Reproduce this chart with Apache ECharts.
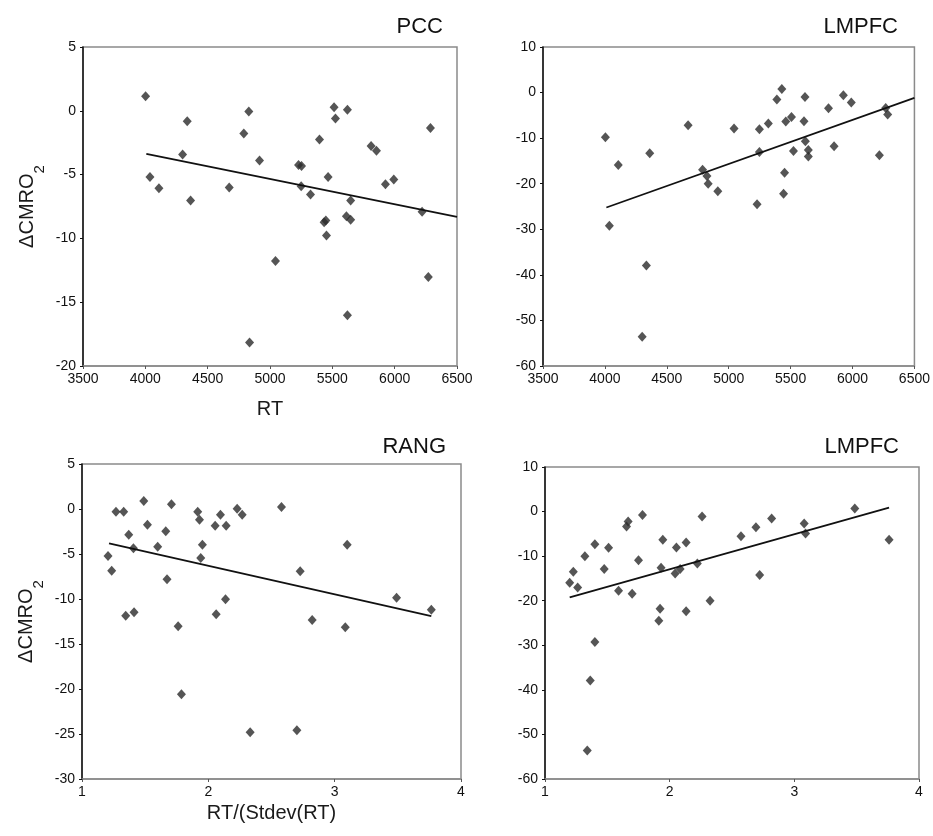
<!DOCTYPE html>
<html>
<head>
<meta charset="utf-8">
<title>CMRO2 scatter</title>
<script src="https://cdn.jsdelivr.net/npm/echarts@6/dist/echarts.min.js"></script>
<style>
	html, body { margin: 0; padding: 0; background: #fff; }
	#chart { width: 933px; height: 836px; }
</style>
</head>
<body>
<div id="chart"></div>
<script>
/*******************************/
/*数据部分*/
/*******************************/
// 上排：RT
var rtTicks = [3500, 4000, 4500, 5000, 5500, 6000, 6500];
var pccPoints = [
	[4002, 1.14], [4037, -5.18], [4109, -6.06], [4299, -3.43], [4336, -0.82], [4363, -7.03],
	[4673, -6.01], [4790, -1.78], [4830, -0.06], [4916, -3.90], [4836, -18.15], [5044, -11.78],
	[5229, -4.24], [5253, -4.32], [5250, -5.91], [5325, -6.56], [5397, -2.25], [5466, -5.18],
	[5514, 0.28], [5525, -0.61], [5434, -8.73], [5448, -8.60], [5453, -9.77], [5621, 0.09],
	[5613, -8.26], [5647, -8.54], [5647, -7.03], [5621, -16.03], [5811, -2.75], [5854, -3.14],
	[5926, -5.75], [5993, -5.39], [6220, -7.92], [6270, -13.03], [6287, -1.34]
];
var pccFit = [[4008, -3.38], [6500, -8.31]];
var lmpfcRtPoints = [
	[4004, -9.80], [4036, -29.24], [4108, -15.87], [4362, -13.31], [4335, -37.93], [4301, -53.57],
	[4672, -7.17], [4789, -16.96], [4824, -18.28], [4834, -20.03], [4912, -21.64], [5043, -7.90],
	[5229, -24.49], [5248, -8.05], [5248, -13.02], [5320, -6.81], [5389, -1.54], [5429, 0.79],
	[5461, -6.37], [5507, -5.34], [5451, -17.62], [5443, -22.22], [5523, -12.80], [5616, -0.96],
	[5608, -6.29], [5619, -10.68], [5643, -12.58], [5643, -14.04], [5806, -3.44], [5851, -11.77],
	[5926, -0.59], [5990, -2.20], [6217, -13.75], [6268, -3.37], [6284, -4.83]
];
var lmpfcRtFit = [[4012, -25.22], [6500, -1.18]];
// 下排：RT/(Stdev(RT))
var ratioTicks = [1, 2, 3, 4];
var rangPoints = [
	[1.206, -5.22], [1.235, -6.85], [1.269, -0.30], [1.330, -0.30], [1.370, -2.85], [1.407, -4.37],
	[1.346, -11.85], [1.412, -11.48], [1.489, 0.89], [1.518, -1.74], [1.599, -4.19], [1.663, -2.48],
	[1.673, -7.81], [1.708, 0.52], [1.761, -13.04], [1.787, -20.59], [1.916, -0.30], [1.930, -1.19],
	[1.953, -3.96], [1.940, -5.44], [2.054, -1.85], [2.096, -0.63], [2.141, -1.85], [2.136, -10.04],
	[2.062, -11.70], [2.228, 0.04], [2.268, -0.63], [2.331, -24.81], [2.579, 0.22], [2.701, -24.59],
	[2.727, -6.93], [2.822, -12.33], [3.099, -3.96], [3.084, -13.15], [3.490, -9.85], [3.765, -11.19]
];
var rangFit = [[1.214, -3.81], [3.765, -11.89]];
var lmpfcRatioPoints = [
	[1.198, -15.97], [1.227, -13.51], [1.262, -17.01], [1.320, -10.00], [1.400, -7.31], [1.400, -29.25],
	[1.363, -37.91], [1.339, -53.58], [1.475, -12.87], [1.510, -8.13], [1.590, -17.76], [1.654, -3.36],
	[1.667, -2.24], [1.699, -18.43], [1.750, -10.90], [1.782, -0.75], [1.913, -24.48], [1.923, -21.79],
	[1.931, -12.61], [1.945, -6.34], [2.044, -13.88], [2.054, -8.06], [2.084, -12.91], [2.132, -6.94],
	[2.132, -22.39], [2.222, -11.64], [2.260, -1.12], [2.324, -20.00], [2.572, -5.52], [2.692, -3.51],
	[2.722, -14.25], [2.818, -1.57], [3.079, -2.69], [3.090, -4.93], [3.485, 0.67], [3.760, -6.34]
];
var lmpfcRatioFit = [[1.198, -19.25], [3.760, 0.90]];
// 标题、轴名
var panelTitles = ['PCC', 'LMPFC', 'RANG', 'LMPFC'];
var yName = '{a|ΔCMRO}{b|2}';
var xNames = ['RT', '', 'RT/(Stdev(RT)', ''];

/*******************************/
/*页面加载时运行*/
/*******************************/
window.onload = function () {
	drawChart();
};

/*
**功能:x轴配置
**参数:网格下标, 刻度数组, 轴名, 轴名间距
*/
function xAxisOpt(idx, ticks, name, gap) {
	return {
		type: 'value',
		gridIndex: idx,
		min: ticks[0],
		max: ticks[ticks.length - 1],
		interval: ticks[1] - ticks[0],
		name: name,
		nameLocation: 'middle',
		nameGap: gap,
		nameTextStyle: { fontFamily: 'Liberation Sans, Arial', fontSize: 20, color: '#1a1a1a' },
		axisLine: { show: true, onZero: false, lineStyle: { color: '#8a8a8a', width: 1.5 } },
		axisTick: { show: true, length: 3, lineStyle: { color: '#555' } },
		axisLabel: {
			fontFamily: 'Liberation Sans, Arial', fontSize: 14, color: '#111', margin: 6,
			formatter: function (v) { return String(v); }
		},
		splitLine: { show: false }
	};
}

/*
**功能:y轴配置
*/
function yAxisOpt(idx, min, max, step, name) {
	return {
		type: 'value',
		gridIndex: idx,
		min: min,
		max: max,
		interval: step,
		name: name,
		nameLocation: 'middle',
		nameGap: 36,
		nameRotate: 90,
		nameTextStyle: {
			color: '#1a1a1a',
			rich: {
				a: { fontFamily: 'Liberation Sans, Arial', fontSize: 20, color: '#1a1a1a', verticalAlign: 'top' },
				b: { fontFamily: 'Liberation Sans, Arial', fontSize: 15, color: '#1a1a1a', verticalAlign: 'bottom', lineHeight: 30 }
			}
		},
		axisLine: { show: true, onZero: false, lineStyle: { color: '#111', width: 1.5 } },
		axisTick: { show: true, length: 3, lineStyle: { color: '#111' } },
		axisLabel: { fontFamily: 'Liberation Sans, Arial', fontSize: 14, color: '#111', margin: 7 },
		splitLine: { show: false }
	};
}

/*
**功能:散点+回归线
*/
function seriesOpt(idx, points, fit) {
	return [
		{
			type: 'scatter',
			xAxisIndex: idx,
			yAxisIndex: idx,
			symbol: 'diamond',
			symbolSize: [9, 10],
			itemStyle: { color: '#2b2b2b' },
			data: points
		},
		{
			type: 'line',
			xAxisIndex: idx,
			yAxisIndex: idx,
			symbol: 'none',
			lineStyle: { color: '#111', width: 1.8 },
			data: fit
		}
	];
}

/*
**功能:生成图表
*/
function drawChart() {
	var chart = echarts.init(document.getElementById('chart'));
	var gridBox = { show: true, borderColor: '#8a8a8a', borderWidth: 1.5, backgroundColor: '#fff' };
	var titleStyle = { fontFamily: 'Liberation Sans, Arial', fontSize: 22, fontWeight: 'normal', color: '#111' };
	chart.setOption({
		backgroundColor: '#fff',
		animation: false,
		title: [
			{ text: panelTitles[0], right: 490, top: 16, padding: 0, textStyle: titleStyle },
			{ text: panelTitles[1], right: 35, top: 16, padding: 0, textStyle: titleStyle },
			{ text: panelTitles[2], right: 487, top: 436, padding: 0, textStyle: titleStyle },
			{ text: panelTitles[3], right: 34, top: 436, padding: 0, textStyle: titleStyle }
		],
		grid: [
			Object.assign({ left: 83, top: 47, width: 374, height: 319 }, gridBox),
			Object.assign({ left: 543, top: 47, width: 374, height: 319 }, gridBox),
			Object.assign({ left: 82, top: 464, width: 379, height: 315 }, gridBox),
			Object.assign({ left: 545, top: 467, width: 374, height: 312 }, gridBox)
		],
		xAxis: [
			xAxisOpt(0, rtTicks, xNames[0], 33),
			xAxisOpt(1, rtTicks, xNames[1], 33),
			xAxisOpt(2, ratioTicks, xNames[2], 24),
			xAxisOpt(3, ratioTicks, xNames[3], 24)
		],
		yAxis: [
			yAxisOpt(0, -20, 5, 5, yName),
			yAxisOpt(1, -60, 10, 10, ''),
			yAxisOpt(2, -30, 5, 5, yName),
			yAxisOpt(3, -60, 10, 10, '')
		],
		series: [].concat(
			seriesOpt(0, pccPoints, pccFit),
			seriesOpt(1, lmpfcRtPoints, lmpfcRtFit),
			seriesOpt(2, rangPoints, rangFit),
			seriesOpt(3, lmpfcRatioPoints, lmpfcRatioFit)
		)
	});
}
</script>
</body>
</html>
